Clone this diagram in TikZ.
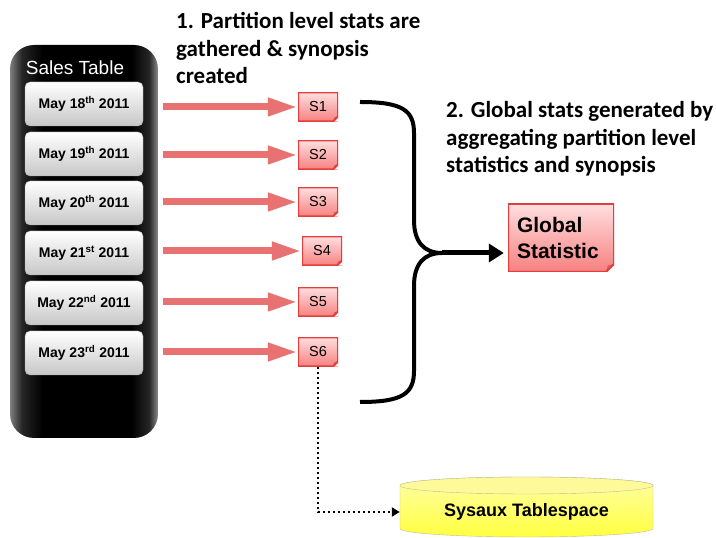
\documentclass[tikz,border=0pt]{standalone}
\usepackage{fontspec}
\setmainfont{Liberation Sans}
\newfontfamily\calibri{Carlito}
\usetikzlibrary{arrows.meta,calc}
\definecolor{arrowred}{RGB}{232,114,114}
\definecolor{noteedge}{RGB}{226,62,62}
\definecolor{notetop}{RGB}{255,222,222}
\definecolor{notebot}{RGB}{247,128,128}
\definecolor{notefold}{RGB}{214,96,96}
\definecolor{sysedge}{RGB}{190,190,150}
\pgfdeclarehorizontalshading{panel}{100bp}{color(0bp)=(black!50); color(25bp)=(black!50); color(29bp)=(black!85);
  color(36bp)=(black); color(66bp)=(black); color(72bp)=(black!85); color(75bp)=(black!45); color(100bp)=(black!45)}
\tikzset{
  datebox/.style={rounded corners=5pt, draw=black!35, top color=white, bottom color=black!22,
    minimum width=118pt, minimum height=44pt, font=\bfseries\fontsize{14}{16}\selectfont},
  note/.style={draw=none, top color=notetop, bottom color=notebot, inner sep=0pt,
    path picture={
      \fill[white] ([yshift=#1]path picture bounding box.south east) -- (path picture bounding box.south east)
        -- ([xshift=-#1]path picture bounding box.south east) -- cycle;
      \fill[notefold] ([yshift=#1]path picture bounding box.south east) -- ([xshift=-#1]path picture bounding box.south east)
        -- ([xshift=-0.8*#1,yshift=0.8*#1]path picture bounding box.south east) -- cycle;
      \draw[noteedge, line width=2pt] (path picture bounding box.north west) -- (path picture bounding box.north east)
        -- ([yshift=#1]path picture bounding box.south east) -- ([xshift=-#1]path picture bounding box.south east)
        -- (path picture bounding box.south west) -- cycle;
    }},
  note/.default=5pt,
  snote/.style={note, minimum width=40pt, minimum height=29pt, font=\fontsize{14.5}{16}\selectfont},
  pinkarrow/.style={draw=arrowred, line width=7pt, -{Triangle[width=17pt,length=30pt]}},
  blurb/.style={anchor=north west, align=left, inner sep=0pt, font=\calibri\bfseries\fontsize{23}{27.5}\selectfont}
}
\begin{document}
\begin{tikzpicture}[x=1pt, y=1pt]
  \useasboundingbox (0,0) rectangle (716,538);
  \shade [rounded corners=24pt, shading=panel] (10,100) rectangle (158,493);
  \node [white, font=\fontsize{19}{22}\selectfont] (title) at (75,470) {Sales Table};
  \node [datebox] (b1) at (84,434) {May 18\textsuperscript{th} 2011};
  \node [datebox] (b2) at (84,384) {May 19\textsuperscript{th} 2011};
  \node [datebox] (b3) at (84,335) {May 20\textsuperscript{th} 2011};
  \node [datebox] (b4) at (84,285) {May 21\textsuperscript{st} 2011};
  \node [datebox] (b5) at (84,235) {May 22\textsuperscript{nd} 2011};
  \node [datebox] (b6) at (84,185) {May 23\textsuperscript{rd} 2011};
  \node [snote] (s1) at (318,431) {S1};
  \node [snote] (s2) at (318,383) {S2};
  \node [snote] (s3) at (318,336) {S3};
  \node [snote] (s4) at (322,287) {S4};
  \node [snote] (s5) at (318,236) {S5};
  \node [snote] (s6) at (318,186) {S6};
  \foreach \i in {1,...,6}
    \draw [pinkarrow] ($(b\i.east |- s\i.west)+(20,0)$) -- (s\i.west);
  \node [blurb] (step1) at (176,525.5) {1. Partition level stats are\\gathered \& synopsis\\created};
  \node [blurb] (step2) at (446,436.5) {2. Global stats generated by\\aggregating partition level\\statistics and synopsis};
  \node [note=8pt, minimum width=106pt, minimum height=68pt, align=left, text width=88pt,
    font=\bfseries\fontsize{21}{26}\selectfont] (glob) at (561,300) {Global\\Statistic};
  \coordinate (tip) at (442,285);
  \draw [line width=4pt] (360,436) .. controls (402,436) and (414,428) .. (414,405) -- (414,318)
    .. controls (414,296) and (424,285) .. (tip);
  \draw [line width=4pt] (360,136) .. controls (402,136) and (414,144) .. (414,167) -- (414,252)
    .. controls (414,274) and (424,285) .. (tip);
  \draw [line width=5pt, -{Triangle[width=18pt,length=15pt]}, shorten >=4pt] (tip) -- (tip -| glob.west);
  \draw [draw=sysedge, top color=yellow!35, bottom color=yellow!75!white] (400,52.5) -- (400,9.5)
    arc [start angle=180, end angle=360, x radius=126.5, y radius=8.5] -- (653,52.5)
    arc [start angle=0, end angle=180, x radius=126.5, y radius=8.5] -- cycle;
  \draw [draw=sysedge, fill=yellow!40] (526.5,52.5) ellipse [x radius=126.5, y radius=8.5];
  \node [font=\bfseries\fontsize{18}{20}\selectfont, minimum width=253pt] (sys) at (526.5,26) {Sysaux Tablespace};
  \draw [line width=2.5pt, dash pattern=on 2.5pt off 2.5pt, -{Triangle[width=9pt,length=8pt]}] (s6.south) |- (sys.west);
\end{tikzpicture}
\end{document}
